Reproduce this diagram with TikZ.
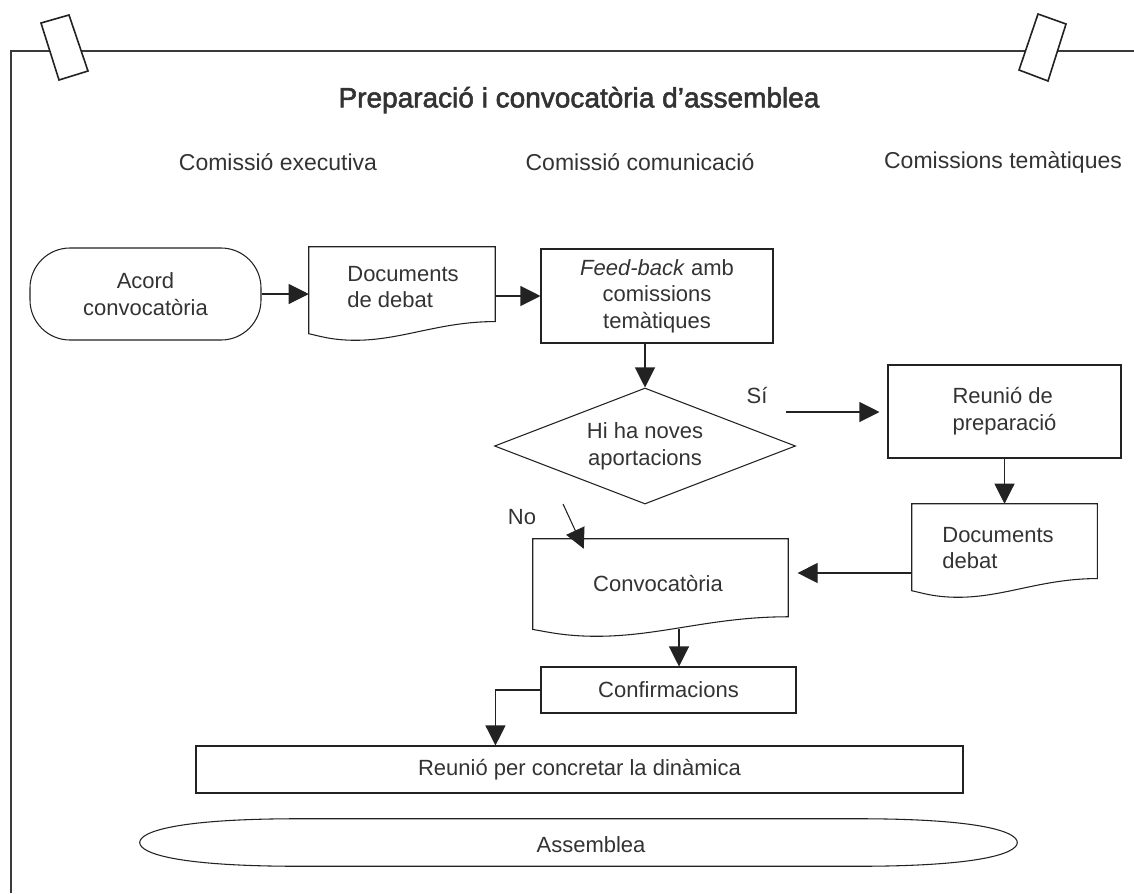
\documentclass[tikz,border=0pt]{standalone}
\usepackage{fontspec}
\setmainfont{Liberation Sans}
\newfontfamily\titlefont[FakeBold=2]{Liberation Sans}
\usetikzlibrary{arrows.meta,shapes.geometric,calc}

\definecolor{ink}{HTML}{222222}
\definecolor{txt}{HTML}{333333}
\definecolor{framecol}{HTML}{3A3A3A}

% outline of a flowchart "document" symbol fitted to a node's bounding box
\newcommand{\docoutline}[1]{%
  \draw[line] let \p1=(#1.north west), \p2=(#1.south east),
                  \n1={\x2-\x1}, \n2={\y1-\y2} in
    (\p1) -- (\x2,\y1) -- (\x2,{\y2+0.2*\n2})
    .. controls ({\x2-0.3*\n1},{\y2+0.2*\n2}) and ({\x1+0.5*\n1},\y2) .. ({\x1+0.25*\n1},\y2)
    .. controls ({\x1+0.12*\n1},\y2) and ({\x1+0.05*\n1},{\y2+0.05*\n2}) .. (\x1,{\y2+0.07*\n2})
    -- cycle;}

\begin{document}
\begin{tikzpicture}[x=0.75pt,y=-0.75pt,
  font=\fontsize{16.5}{20}\selectfont,
  line/.style={draw=ink, line width=0.8pt},
  arr/.style={line, -{Triangle[length=15pt,width=15pt]}},
  sz/.style 2 args={minimum width=#1*0.75pt, minimum height=#2*0.75pt},
  box/.style={line, rectangle, inner sep=0pt, text=txt},
  docshape/.style={rectangle, inner sep=0pt},
  txtnode/.style={inner sep=0pt, text=txt},
  hdr/.style={inner sep=0pt, text=txt, font=\fontsize{17.25}{21}\selectfont},
  tape/.style={fill=white, draw=ink, line width=1.2pt, line join=miter}
]
\useasboundingbox (0,0) rectangle (1134,893);

% sheet edge and the two strips of tape
\draw[draw=framecol, line width=1.7pt] (11,893) -- (11,51) -- (1134,51);
\draw[tape] (41,23) -- (69,15) -- (88,71) -- (59,80) -- cycle;
\draw[tape] (1038,14) -- (1066,24) -- (1048,81) -- (1019,70) -- cycle;

% headings
\node[txtnode] (title) at (579,100)
  {\titlefont\fontsize{21}{25}\selectfont Preparació i convocatòria d’assemblea};
\node[hdr] (col1) at (278,162) {Comissió executiva};
\node[hdr] (col2) at (640,162) {Comissió comunicació};
\node[hdr] (col3) at (1003,162) {Comissions temàtiques};

% first row
\node[box, rounded corners=30pt, sz={231}{92}, align=center] (acord) at (145.5,294)
  {Acord\\convocatòria};
\node[docshape, sz={186}{93}] (doc1) at (402,293.5) {};
\docoutline{doc1}
\node[txtnode, align=left] (doc1-t) at (403,287) {Documents\\de debat};
\node[box, sz={232}{94}, align=center] (feed) at (657,296)
  {\textit{Feed-back} amb\\comissions\\temàtiques};

% decision
\node[line, diamond, inner sep=0pt, aspect=2.6, sz={301}{116}, align=center, text=txt]
  (dec) at (645,446) {Hi ha noves\\aportacions};
\node[txtnode] (si) at (757,395) {Sí};
\node[txtnode] (no) at (522,517) {No};

% right branch
\node[box, sz={233}{93}, align=left] (reunio) at (1004.5,411.5) {Reunió de\\preparació};
\node[docshape, sz={185}{93}] (doc2) at (1004.5,550.5) {};
\docoutline{doc2}
\node[txtnode, align=left] (doc2-t) at (998,548) {Documents\\debat};

% convocation and the steps after it
\node[docshape, sz={255}{97}] (conv) at (660.5,587.5) {};
\docoutline{conv}
\node[txtnode] (conv-t) at (658,583) {Convocatòria};
\node[box, sz={255}{46}] (confirm) at (668.5,690) {Confirmacions};
\node[box, sz={767}{47}] (reunio2) at (579.5,769.5) {Reunió per concretar la dinàmica};

% assembly: flattened oval
\node[inner sep=0pt, sz={877}{47}] (asm) at (578.5,842.5) {};
\draw[line] (asm.west)
  .. controls ($(asm.west)+(0,-10.5)$) and ($(asm.north west)+(35,0)$) .. ($(asm.north west)+(160,0)$)
  -- ($(asm.north east)+(-160,0)$)
  .. controls ($(asm.north east)+(-35,0)$) and ($(asm.east)+(0,-10.5)$) .. (asm.east)
  .. controls ($(asm.east)+(0,10.5)$) and ($(asm.south east)+(-35,0)$) .. ($(asm.south east)+(-160,0)$)
  -- ($(asm.south west)+(160,0)$)
  .. controls ($(asm.south west)+(35,0)$) and ($(asm.west)+(0,10.5)$) .. (asm.west) -- cycle;
\node[txtnode] (asm-t) at (591,845) {Assemblea};

% connectors
\draw[arr] (acord.east) -- (acord.east -| doc1.west);
\draw[arr] (doc1.east |- feed.west) -- (feed.west);
\draw[arr] (feed.south -| dec.north) -- (dec.north);

\coordinate (siout) at (786,412);
\draw[arr, shorten >=6pt] (siout) -- (siout -| reunio.west);
\draw[arr] (reunio.south) -- (reunio.south |- doc2.north);

\coordinate (d2out) at ($(doc2.west)+(0,22.5)$);
\draw[arr, shorten >=7pt] (d2out) -- (d2out -| conv.east);

\coordinate (noout) at (563,504);
\coordinate (noin) at ($(conv.north west)+(51,10)$);
\draw[arr] (noout) -- (noin);

\coordinate (cvout) at ($(conv.south)+(18.5,-7)$);
\draw[arr] (cvout) -- (cvout |- confirm.north);

\coordinate (r2in) at ($(reunio2.north west)+(300,0)$);
\draw[arr] (confirm.west) -| (r2in);
\end{tikzpicture}
\end{document}
